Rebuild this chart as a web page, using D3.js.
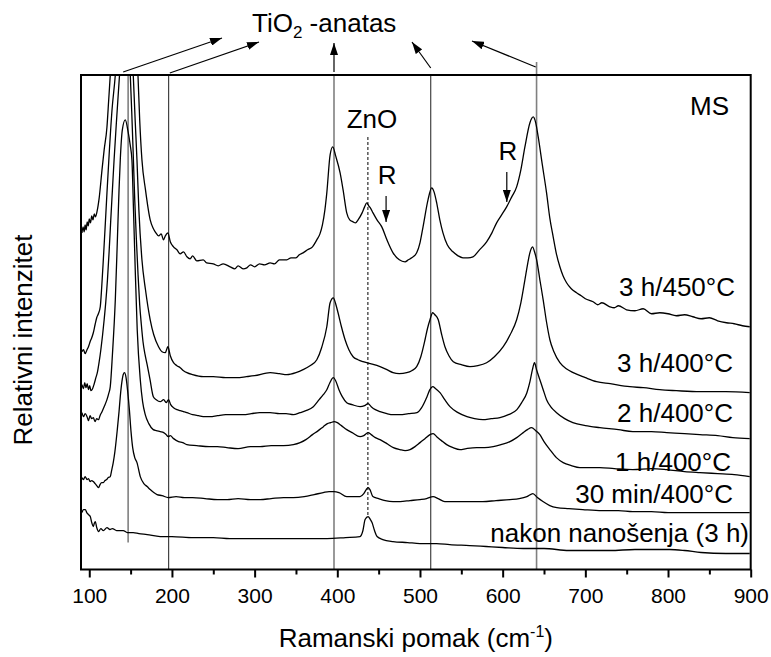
<!DOCTYPE html>
<html><head><meta charset="utf-8">
<script src="https://cdn.jsdelivr.net/npm/d3@7"></script>
<style>body{margin:0;background:#fff} svg{display:block}</style>
</head><body><div id="chart"></div>
<script>
// ---- data: [Raman shift (cm-1), relative intensity (a.u., stacked)] ----
const curve3h450 = [[91.2,337],[92.5,343],[93.8,338],[95,345],[96.2,340],[97.5,348],[98.8,344],[100,351],[101.5,347],[103,354],[104.5,350],[106,356],[107.5,353],[109.3,358],[112,372],[115.4,400],[118,420],[121.4,443],[123.5,470],[125.4,495],[128,535],[132,570],[138,600],[144,615],[150,595],[155,555],[158.9,495],[161,450],[163.7,410],[168,380],[173.7,350],[177,342],[179.8,338],[184,334],[187,336],[189.8,330],[192,334],[195.1,337],[198,328],[201.9,323],[206,320],[210,316],[214,318],[218.1,313],[222,311],[225,314],[230,309],[237.8,310],[242,307],[250,306],[256,304],[262,306],[270.4,303],[276,301],[280,304],[286,301],[290.6,302],[295,305],[300,303],[306,306],[312,305],[318.8,307],[324,306],[330,310],[339,310],[344,312],[350,312],[354,315],[358.6,317],[364,320],[370,323],[375.2,330],[379,336],[382,345],[385,360],[387.3,377],[391.3,415],[394.5,423],[398,414],[403.4,397],[407,380],[411.4,357],[415,350],[419.1,348],[422,347],[425.1,350],[430,357],[433,363],[435.6,367],[438,364],[440,362],[443.2,357],[448,350],[453.8,343],[460,330],[467.4,317],[475,310],[481.9,308],[486,310],[490,312],[496,317],[500,327],[503.7,343],[509.7,370],[514.2,382],[517,378],[520.2,367],[524,350],[527.8,337],[533,325],[539.9,318],[546,314],[552,312],[558,312],[564.1,313],[572,320],[580.6,328],[587,337],[592.7,347],[598,354],[604.8,363],[611,373],[616.9,383],[622,400],[626.9,423],[632.9,447],[637,453],[640,447],[643,433],[648,405],[653.1,377],[657,352],[661.1,333],[665,316],[669.2,303],[673,294],[677.3,287],[683,281],[689.4,277],[695,274],[700,271],[709.4,268],[715,265],[720,267],[729.6,263],[735,262],[740,264],[749.8,260],[760,259],[770,261],[780,256],[790,257],[800,256],[810,254],[820,255],[830,253],[840,251],[850,252],[860,249],[870.7,247],[880,246],[890,244],[898.8,243]];

const curve3h400 = [[91.2,218],[93,220],[95,216],[97.3,220],[99,223],[101,228],[103,232],[104.9,237],[107,245],[109,252],[111,256],[113.3,263],[115,282],[117,310],[119,340],[121.4,377],[124,415],[127.5,460],[131.5,495],[135,540],[140,580],[144,590],[148,565],[153.2,495],[155.5,450],[157.7,410],[160,360],[163.7,310],[168,280],[173.7,250],[178,235],[183.8,223],[188,218],[191.9,217],[195.1,223],[198,214],[201.9,207],[206,204],[210,202],[214,199],[218.1,197],[225,195],[237.8,193],[250,193],[265,192],[278.5,192],[290,193],[300,194],[318.8,197],[330,196],[339,195],[350,197],[358.6,200],[367,204],[375.2,210],[381,222],[387.3,243],[391.3,267],[395.2,272],[398,266],[400.9,257],[405,243],[409.4,230],[414,220],[419.1,213],[425,210],[431.1,208],[440,206],[451.7,203],[460,200],[467.4,197],[475,196],[484,197],[490,199],[496,203],[501,213],[506.1,230],[509,241],[512.1,250],[515.4,257],[518,255],[522.1,250],[526,236],[530.2,223],[535,214],[540.3,208],[550,205],[560.5,203],[570,204],[580.6,207],[590,213],[600.7,223],[609,235],[616.9,250],[622,267],[626.9,290],[630,305],[632.9,317],[636.2,323],[638.5,318],[641.1,310],[645,290],[649,270],[653,248],[657.1,230],[662,218],[669.2,207],[677,201],[685.3,197],[700,192],[713.6,188],[730,186],[753.8,183],[770,182],[790,180],[810,179],[838.4,178],[870,178],[898.8,177]];

const curve2h400 = [[91.2,185],[93,181],[94.5,187],[96,182],[97.5,186],[99,180],[100.5,184],[102,179],[104,181],[106,186],[108,192],[110,198],[112,208],[114,220],[116,234],[118,250],[120,268],[122,290],[124,318],[126,350],[128,380],[130,410],[133,450],[136.6,495],[140,540],[143,555],[146,540],[149.6,495],[151.5,455],[153,420],[155,370],[157,330],[159,295],[161,265],[163,245],[165,228],[167.5,215],[170,205],[173.5,190],[177.5,173],[181,170],[185.8,168],[190,170],[193,167],[195.9,170],[198.5,165],[201.9,162],[206,160],[210,159],[214,158],[218,157],[225,155],[232,154],[240,153],[246.3,153],[255,154],[265,155],[276,155],[286.5,155],[296,156],[306,157],[318.8,157],[330,156],[338,156],[346.9,155],[355,157],[362,159],[371,163],[378,170],[383,175],[387.3,180],[391,187],[395.2,192],[398,189],[402,180],[406,173],[411.4,167],[418,165],[427.5,163],[433,164],[437.2,166],[441,163],[446,160],[451.7,158],[460,156],[467.8,155],[475.9,155],[486,156],[496.4,157],[502,162],[508.5,173],[512,180],[515.4,183],[519,181],[524.2,177],[530,170],[536.3,163],[546,157],[556.8,153],[566,151],[576.2,150],[586,151],[596.7,152],[607,155],[617.2,160],[623,167],[629.3,177],[633,188],[636,200],[638.5,207],[641,200],[645,190],[649,180],[653.1,170],[658,163],[665.2,157],[675,151],[684.9,147],[700,144],[717.6,142],[740,140],[757.4,138],[780,138],[798.5,137],[820,136],[838.4,135],[860,134],[878.3,132],[898.8,131]];

const curve1h400 = [[91.2,157],[93,153],[95,156],[97.3,153],[99,149],[101,154],[103,151],[104.9,152],[107,148],[109,151],[111.3,150],[113,154],[115.4,158],[118,163],[121.4,170],[123.5,176],[125.4,183],[128,215],[131.5,270],[134,330],[136,380],[137.5,410],[140,440],[143.5,450],[147,438],[149.5,425],[151.6,410],[153.5,360],[155.6,300],[158,240],[161.7,190],[164.5,168],[167.7,155],[172,146],[177.4,140],[181,139],[185.8,138],[190,137],[193,135],[195.5,133],[198,134],[202,131],[208,128],[213,127],[218,125],[230,124],[245,123],[255,123],[266.4,122],[280,121],[295,123],[306.7,123],[320,124],[335,124],[346.9,125],[355,127],[362,130],[370,135],[377,139],[383.2,143],[388,146],[392,147],[396.1,148],[400,147],[405,144],[411.4,140],[418,137],[427.5,133],[432,134],[437.2,137],[441,135],[446,132],[451.7,130],[460,126],[467.8,122],[475.9,120],[482,119],[488,120],[494,123],[500,127],[506,131],[512.1,135],[516,136],[520.2,133],[526,129],[532.3,125],[540,122],[548.4,120],[556,121],[568.6,122],[578,122],[588.6,123],[598,125],[608.8,128],[617,132],[624.9,137],[630,140],[635,142],[640,139],[645,135],[650,128],[657.1,120],[665,112],[673.2,107],[683,104],[693.4,102],[705,102],[717.6,102],[735,101],[757.4,100],[780,101],[798.5,100],[820,98],[838.4,97],[860,96],[880,95],[898.8,93]];

const curve30min = [[91.2,92],[93,90],[95,93],[97.3,90],[99,91],[101,88],[103,89],[104.9,88],[107,86],[109,84],[111.3,82],[113,85],[115,87],[117,87],[119,89],[121,90],[123,92],[125.4,93],[127,99],[129,107],[131,118],[133.9,140],[136,158],[137.5,173],[139.5,188],[141,195],[142.7,197],[144.5,192],[146.5,178],[148.5,160],[150.5,138],[152.5,122],[155,112],[157.7,107],[161.7,93],[166,86],[170,83],[173.7,80],[178,77],[182,75],[188,74],[195.5,72],[205,73],[215,72],[225,72],[240,71],[255,70],[266.8,70],[280,71],[295,70],[306.7,70],[320,71],[335,72],[346.9,72],[360,73],[372,75],[383,77],[390,78],[396.1,78],[402,77],[411.4,73],[420,73],[427.5,73],[432,76],[435,80],[437.2,82],[439.5,80],[443,73],[450,71],[458,69],[467.4,68],[475.9,68],[488,69],[500,70],[508,71],[515.8,73],[522,71],[530,68],[540,68],[548,68],[562,68],[576,68],[592,69],[608.8,70],[620,71],[629.3,73],[636.6,76],[642,72],[648.7,68],[657,64],[665.6,62],[680,61],[697,60],[720,59],[740,59],[757.4,58],[780,58],[800,57],[838.4,57],[870,57],[898.8,57]];

const curveAsDeposited = [[91.2,57],[93,60],[95.2,60],[97,57],[99,55],[101.2,53],[103,47],[104.9,43],[106,46],[107.3,48],[109,42],[111.3,38],[114,41],[117,39],[121.4,42],[125,40],[128,41],[133,39],[141.1,39],[146,37],[153.2,37],[160,36],[170,35],[185.8,33],[200,33],[225.7,32],[250,32],[270,31],[306.7,31],[330,31],[360,31],[387.6,31],[410,32],[427.5,33],[431,39],[433.6,50],[437.2,53],[440,50],[442,47],[445,39],[448.1,33],[455,30],[467.4,28],[485,27],[500,26],[520,26],[536,25],[560,24],[580,23],[600,22],[625,21],[650,21],[680,19],[700,19],[730,19],[760,20],[790,20],[802,20],[820,19],[840,17],[870,16],[898.8,16]];

const seriesLabels = ["3 h/450°C", "3 h/400°C", "2 h/400°C", "1 h/400°C", "30 min/400°C", "nakon nanošenja (3 h)"];
const xTicks = [100, 200, 300, 400, 500, 600, 700, 800, 900];
const xMinorTicks = [150, 250, 350, 450, 550, 650, 750, 850];
const anatasePeaks = [147, 196, 396, 513, 641];
const znoPeak = 437;
const rutilePeaks = [459, 605];

// ---- layout ----
const W = 771, H = 657;
const L = 81, R = 750.7, T = 75, B = 569.5;
const FONT = "'Liberation Sans', Arial, Helvetica, sans-serif";
const x = d3.scaleLinear().domain([90, 900]).range([L, R]);
const y = d3.scaleLinear().domain([0, 495]).range([B, T]);

const svg = d3.select("#chart").append("svg").attr("width", W).attr("height", H)
  .style("font-family", FONT);
svg.append("rect").attr("width", W).attr("height", H).attr("fill", "#fff");

svg.append("defs").append("clipPath").attr("id", "plotclip")
  .append("rect").attr("x", L).attr("y", T).attr("width", R - L).attr("height", B - T);
const defs = svg.select("defs");
defs.append("marker").attr("id", "ah").attr("viewBox", "0 0 12 8")
  .attr("refX", 12).attr("refY", 4).attr("markerWidth", 12).attr("markerHeight", 8)
  .attr("markerUnits", "userSpaceOnUse").attr("orient", "auto")
  .append("path").attr("d", "M0,0 L12,4 L0,8 Z").attr("fill", "#000");

// reference lines
const refG = svg.append("g");
const refStyle = [
  {stroke: "#808080", w: 1.6, yEnd: 27},
  {stroke: "#333", w: 1.1, yEnd: 0},
  {stroke: "#808080", w: 1.6, yEnd: 0},
  {stroke: "#333", w: 1.1, yEnd: 0},
  {stroke: "#808080", w: 1.6, yEnd: 0}
];
anatasePeaks.forEach((v, i) => {
  refG.append("line").attr("x1", x(v)).attr("x2", x(v))
    .attr("y1", i === 4 ? T - 13 : T).attr("y2", y(refStyle[i].yEnd))
    .attr("stroke", refStyle[i].stroke).attr("stroke-width", refStyle[i].w);
});
refG.append("line").attr("x1", x(znoPeak)).attr("x2", x(znoPeak))
  .attr("y1", 137).attr("y2", y(53))
  .attr("stroke", "#000").attr("stroke-width", 1).attr("stroke-dasharray", "3,2");

// curves
const curves = [curve3h450, curve3h400, curve2h400, curve1h400, curve30min, curveAsDeposited];
const line = d3.line().x(d => x(d[0])).y(d => y(d[1])).curve(d3.curveMonotoneX);
svg.append("g").attr("clip-path", "url(#plotclip)")
  .selectAll("path").data(curves).join("path")
  .attr("d", line).attr("fill", "none").attr("stroke", "#000")
  .attr("stroke-width", 1.3).attr("stroke-linejoin", "round");

// frame
svg.append("rect").attr("x", L).attr("y", T).attr("width", R - L).attr("height", B - T)
  .attr("fill", "none").attr("stroke", "#000").attr("stroke-width", 2);

// x axis
const ax = svg.append("g").attr("transform", `translate(0,${B})`)
  .call(d3.axisBottom(x).tickValues(xTicks).tickSize(8).tickPadding(11).tickFormat(d3.format("d")));
ax.select(".domain").remove();
ax.selectAll(".tick line").attr("stroke-width", 2);
ax.selectAll("text").style("font-family", FONT).style("font-size", "21px").attr("fill", "#000");
const axm = svg.append("g").attr("transform", `translate(0,${B})`)
  .call(d3.axisBottom(x).tickValues(xMinorTicks).tickSize(5).tickFormat(""));
axm.select(".domain").remove();
axm.selectAll(".tick line").attr("stroke-width", 2);

// axis titles
const xt = svg.append("text").attr("x", (L + R) / 2).attr("y", 647).attr("text-anchor", "middle")
  .style("font-size", "26px").attr("fill", "#000");
xt.append("tspan").text("Ramanski pomak (cm");
xt.append("tspan").attr("dy", -10).style("font-size", "16px").text("-1");
xt.append("tspan").attr("dy", 10).text(")");

svg.append("text").attr("transform", "translate(32,340) rotate(-90)").attr("text-anchor", "middle")
  .style("font-size", "26px").attr("fill", "#000").text("Relativni intenzitet");

// series labels
const labelPos = [[735, 296], [733, 372], [733, 422], [731, 471], [733, 503], [749, 542]];
svg.append("g").selectAll("text").data(seriesLabels).join("text")
  .attr("x", (d, i) => labelPos[i][0]).attr("y", (d, i) => labelPos[i][1])
  .attr("text-anchor", "end").style("font-size", "26px").attr("fill", "#000").text(d => d);

svg.append("text").attr("x", 729).attr("y", 115).attr("text-anchor", "end")
  .style("font-size", "26px").text("MS");
svg.append("text").attr("x", x(442)).attr("y", 128).attr("text-anchor", "middle")
  .style("font-size", "26px").text("ZnO");

// rutile markers
const rLab = [184, 160], rArr = [[196, 222], [172, 202]];
rutilePeaks.forEach((v, i) => {
  svg.append("text").attr("x", x(v) + 1).attr("y", rLab[i]).attr("text-anchor", "middle")
    .style("font-size", "26px").text("R");
  svg.append("line").attr("x1", x(v)).attr("x2", x(v)).attr("y1", rArr[i][0]).attr("y2", rArr[i][1])
    .attr("stroke", "#000").attr("stroke-width", 1.2).attr("marker-end", "url(#ah)");
});

// TiO2 title and arrows
const tt = svg.append("text").attr("x", 252).attr("y", 32).style("font-size", "26px");
tt.append("tspan").text("TiO");
tt.append("tspan").attr("dy", 6).style("font-size", "17px").text("2");
tt.append("tspan").attr("dy", -6).text(" -anatas");

const arrowFrom = [141, 197.4, 396, 513, 640];
const arrowStartY = [72, 73, 72, 68, 67];
const arrowTip = [[222, 38], [259, 42], [null, 43], [412, 42], [472, 41]];
arrowFrom.forEach((v, i) => {
  const tx = arrowTip[i][0] === null ? x(v) : arrowTip[i][0];
  svg.append("line").attr("x1", x(v)).attr("y1", arrowStartY[i]).attr("x2", tx).attr("y2", arrowTip[i][1])
    .attr("stroke", "#000").attr("stroke-width", 1.2).attr("marker-end", "url(#ah)");
});
</script>
</body></html>
